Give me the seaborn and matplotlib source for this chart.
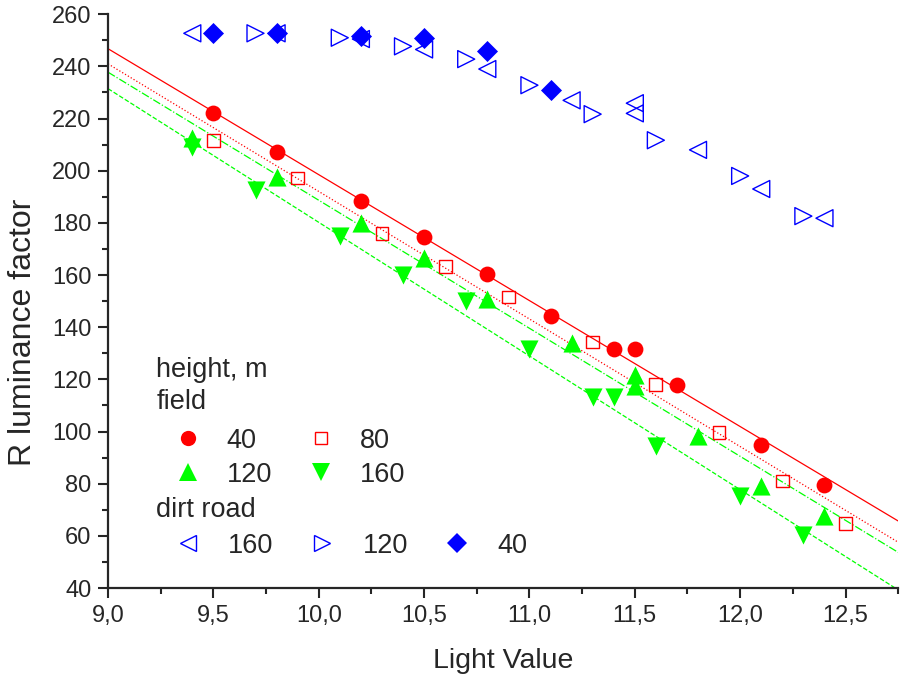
import numpy as np
import matplotlib
matplotlib.use("Agg")
import matplotlib.pyplot as plt
import seaborn as sns
from matplotlib.lines import Line2D
from matplotlib.ticker import MultipleLocator

# field, height 40 m
x_f40 = [9.5, 9.8, 10.2, 10.5, 10.8, 11.1, 11.4, 11.5, 11.7, 12.1, 12.4]
y_f40 = [222, 207, 188.3, 174.6, 160.4, 144.3, 131.6, 131.6, 118, 95, 79.5]
# field, height 80 m
x_f80 = [9.5, 9.9, 10.3, 10.6, 10.9, 11.3, 11.6, 11.9, 12.2, 12.5]
y_f80 = [211.7, 197.2, 176, 163.4, 151.6, 134.3, 118, 99.5, 81, 64.6]
# field, height 120 m
x_f120 = [9.4, 9.8, 10.2, 10.5, 10.8, 11.2, 11.5, 11.5, 11.8, 12.1, 12.4]
y_f120 = [212.5, 197.5, 180, 166.5, 151, 134, 121.7, 117.5, 98.3, 79, 67.7]
# field, height 160 m
x_f160 = [9.4, 9.7, 10.1, 10.4, 10.7, 11.0, 11.3, 11.4, 11.6, 12.0, 12.3]
y_f160 = [209, 192.6, 175, 160, 150, 131.6, 113.3, 113.3, 94.5, 75.3, 60.4]
# dirt road, height 160 m
x_d160 = [9.4, 9.8, 10.2, 10.5, 10.8, 11.2, 11.5, 11.5, 11.8, 12.1, 12.4]
y_d160 = [252.7, 252.7, 250.5, 246.5, 239, 227, 225.9, 222, 208, 193, 181.8]
# dirt road, height 120 m
x_d120 = [9.7, 10.1, 10.4, 10.7, 11.0, 11.3, 11.6, 12.0, 12.3]
y_d120 = [252.7, 251, 247.7, 242.8, 232.8, 221.7, 211.7, 198, 182.6]
# dirt road, height 40 m
x_d40 = [9.5, 9.8, 10.2, 10.5, 10.8, 11.1]
y_d40 = [252.7, 252.7, 251.8, 251, 246, 230.9]

x_ticks = [9.0, 9.5, 10.0, 10.5, 11.0, 11.5, 12.0, 12.5]
x_tick_labels = ["9,0", "9,5", "10,0", "10,5", "11,0", "11,5", "12,0", "12,5"]
y_ticks = list(range(40, 261, 20))

RED = "#ff0000"
GREEN = "#00ff00"
BLUE = "#0000ff"

sns.set_style("ticks")
plt.rcParams["font.family"] = ["Liberation Sans", "DejaVu Sans"]

fig = plt.figure(figsize=(9, 6.79), dpi=100)
ax = fig.add_axes([0.12, 0.134, 0.878, 0.845])
ax.set_xlim(9.0, 12.75)
ax.set_ylim(40, 260)

# linear fits across the full x range
fits = [(x_f40, y_f40, RED, "-"), (x_f80, y_f80, RED, ":"),
        (x_f120, y_f120, GREEN, "-."), (x_f160, y_f160, GREEN, "--")]
for xs, ys, c, ls in fits:
    sns.regplot(x=np.array(xs), y=np.array(ys), ax=ax, scatter=False, ci=None,
                truncate=False, color=c, line_kws=dict(ls=ls, lw=0.9))
ax.set_xlim(9.0, 12.75)

sns.scatterplot(x=x_d160, y=y_d160, ax=ax, marker="<", s=150,
                facecolor="none", edgecolor=BLUE, linewidth=1.0, zorder=3)
sns.scatterplot(x=x_d120, y=y_d120, ax=ax, marker=">", s=150,
                facecolor="none", edgecolor=BLUE, linewidth=1.0, zorder=3)
sns.scatterplot(x=x_d40, y=y_d40, ax=ax, marker="D", s=115,
                color=BLUE, linewidth=0, zorder=4)
sns.scatterplot(x=x_f80, y=y_f80, ax=ax, marker="s", s=85,
                facecolor="none", edgecolor=RED, linewidth=1.0, zorder=3)
sns.scatterplot(x=x_f160, y=y_f160, ax=ax, marker="v", s=170,
                color=GREEN, linewidth=0, zorder=3)
sns.scatterplot(x=x_f120, y=y_f120, ax=ax, marker="^", s=170,
                color=GREEN, linewidth=0, zorder=3)
sns.scatterplot(x=x_f40, y=y_f40, ax=ax, marker="o", s=130,
                color=RED, linewidth=0, zorder=4)

# axes styling
sns.despine(ax=ax)
for side in ["left", "bottom"]:
    ax.spines[side].set_linewidth(1.6)
ax.set_xticks(x_ticks)
ax.set_xticklabels(x_tick_labels)
ax.set_yticks(y_ticks)
ax.xaxis.set_minor_locator(MultipleLocator(0.25))
ax.yaxis.set_minor_locator(MultipleLocator(10))
ax.tick_params(which="major", direction="out", length=7, width=1.5,
               labelsize=17, pad=5)
ax.tick_params(which="minor", direction="out", length=4, width=1.5)
ax.set_xlabel("Light Value", fontsize=20.5, labelpad=15)
ax.set_ylabel("R luminance factor", fontsize=23, labelpad=10, y=0.445)

# legend block
ax.text(0.061, 0.380, "height, m", transform=ax.transAxes, fontsize=19.5,
        va="center", ha="left")
ax.text(0.061, 0.324, "field", transform=ax.transAxes, fontsize=19.5,
        va="center", ha="left")
ax.text(0.061, 0.136, "dirt road", transform=ax.transAxes, fontsize=19.5,
        va="center", ha="left")

def handle(marker, color, size, filled=True):
    return Line2D([], [], ls="none", marker=marker, markersize=size,
                  markerfacecolor=color if filled else "none",
                  markeredgecolor=color, markeredgewidth=1.0 if not filled else 0)

field_handles = [handle("o", RED, 11), handle("^", GREEN, 12.5),
                 handle("s", RED, 9, False), handle("v", GREEN, 12.5)]
field_labels = ["40", "120", "80", "160"]
leg1 = ax.legend(field_handles, field_labels, ncol=2, loc="upper left",
                 bbox_to_anchor=(0.0835, 0.279), frameon=False, fontsize=19.5,
                 handlelength=1.0, handletextpad=0.95, columnspacing=1.3,
                 labelspacing=0.28, borderpad=0, borderaxespad=0)
ax.add_artist(leg1)

road_handles = [handle("<", BLUE, 12, False), handle(">", BLUE, 12, False),
                handle("D", BLUE, 10.5)]
road_labels = ["160", "120", "40"]
ax.legend(road_handles, road_labels, ncol=3, loc="upper left",
          bbox_to_anchor=(0.0835, 0.096), frameon=False, fontsize=19.5,
          handlelength=1.0, handletextpad=1.0, columnspacing=1.3,
          borderpad=0, borderaxespad=0)

plt.savefig("out.png", dpi=100)
